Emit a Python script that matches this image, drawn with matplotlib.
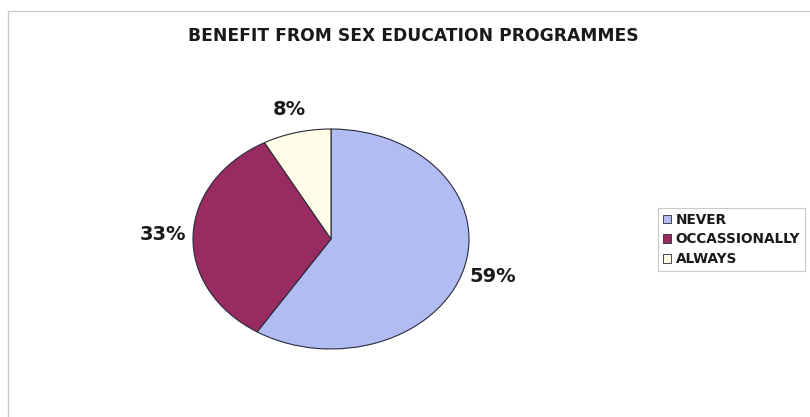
import matplotlib.pyplot as plt
from matplotlib.patches import Rectangle

# Dados do gráfico
categorias = ['NEVER', 'OCCASSIONALLY', 'ALWAYS']
valores = [59, 33, 8]
cores = ['#B1BCF2', '#982C62', '#FFFDE8']

plt.rcParams['font.family'] = ['DejaVu Sans']

fig = plt.figure(figsize=(8.1, 4.17), dpi=100)

# Moldura cinza (cortada à direita e embaixo)
fig.patches.append(Rectangle((8 / 810, -0.1), 1.0, 1 - 11 / 417 + 0.1,
                             transform=fig.transFigure, fill=False,
                             edgecolor='#c8c8c8', linewidth=1.0))

# Eixo posicionado para formar a elipse
ax = fig.add_axes([193 / 810, 1 - 349 / 417, 276 / 810, 220 / 417])
wedges, textos, pcts = ax.pie(valores, colors=cores, startangle=90, counterclock=False,
                              autopct='%1.0f%%', pctdistance=1.22,
                              wedgeprops={'edgecolor': '#2a2a3a', 'linewidth': 0.8})
for t in pcts:
    t.set_fontsize(14)
    t.set_fontweight('bold')
    t.set_color('#1a1a1a')
    t.set_va('center')
ax.set_aspect('auto')
ax.set_xlim(-1, 1)
ax.set_ylim(-1, 1)
ax.axis('off')

fig.text(413 / 810, 1 - 34 / 417, 'BENEFIT FROM SEX EDUCATION PROGRAMMES',
         ha='center', va='center_baseline', fontsize=12.3, fontweight='bold', color='#1a1a1a')

leg = fig.legend(wedges, categorias, loc='upper left',
                 bbox_to_anchor=(658 / 810, 1 - 208 / 417), borderaxespad=0,
                 frameon=True, fancybox=False, handlelength=0.6, handleheight=0.6,
                 handletextpad=0.35, labelspacing=0.42, borderpad=0.35,
                 prop={'size': 9.8, 'weight': 'bold'})
leg.get_frame().set_edgecolor('#bbbbbb')
leg.get_frame().set_linewidth(0.8)
for h in leg.legend_handles:
    h.set_linewidth(0.6)
for t in leg.get_texts():
    t.set_color('#1a1a1a')

plt.savefig('out.png', dpi=100)
